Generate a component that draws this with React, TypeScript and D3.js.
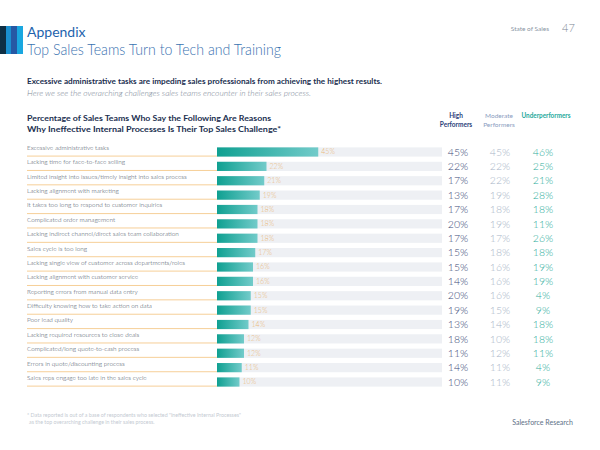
import React from "react";
import * as d3 from "d3";

const categories = [
  "Excessive administrative tasks",
  "Lacking time for face-to-face selling",
  "Limited insight into issues/timely insight into sales process",
  "Lacking alignment with marketing",
  "It takes too long to respond to customer inquiries",
  "Complicated order management",
  "Lacking indirect channel/direct sales team collaboration",
  "Sales cycle is too long",
  "Lacking single view of customer across departments/roles",
  "Lacking alignment with customer service",
  "Reporting errors from manual data entry",
  "Difficulty knowing how to take action on data",
  "Poor lead quality",
  "Lacking required resources to close deals",
  "Complicated/long quote-to-cash process",
  "Errors in quote/discounting process",
  "Sales reps engage too late in the sales cycle",
];
const overall = [45, 22, 21, 19, 18, 18, 18, 17, 16, 16, 15, 15, 14, 12, 12, 11, 10];
const highPerformers = [45, 22, 17, 13, 17, 20, 17, 15, 15, 14, 20, 19, 13, 18, 11, 14, 10];
const moderatePerformers = [45, 22, 22, 19, 18, 19, 17, 18, 16, 16, 16, 15, 14, 10, 12, 11, 11];
const underperformers = [46, 25, 21, 28, 18, 11, 26, 18, 19, 19, 4, 9, 18, 18, 11, 4, 9];

const FONT = "Lato, 'Open Sans', sans-serif";

export default function App() {
  const W = 600;
  const H = 450;
  const x = d3.scaleLinear().domain([0, 100]).range([217, 442]);
  const y = d3
    .scaleBand<string>()
    .domain(categories)
    .range([144.8, 389.2])
    .paddingInner(0.36)
    .paddingOuter(0.18);
  const bw = y.bandwidth();
  const colX = { high: 458, mod: 500, under: 543 };

  return (
    <svg width={W} height={H} style={{ position: "absolute", left: 0, top: 0, background: "#fff" }}>
      <defs>
        <linearGradient id="barGrad" x1="0" x2="1" y1="0" y2="0">
          <stop offset="0%" stopColor="#0fa091" />
          <stop offset="100%" stopColor="#72cbca" />
        </linearGradient>
      </defs>
      {/* header stripes */}
      <rect x={0} y={26} width={6} height={28} fill="#0e2f45" />
      <rect x={6} y={26} width={5} height={28} fill="#1a8fcf" />
      <rect x={11} y={26} width={6} height={28} fill="#2658a4" />
      <rect x={17} y={26} width={6} height={28} fill="#19a7e0" />
      <text x={27} y={37} fontFamily={FONT} fontSize={14} fill="#1d63ad" fontWeight={400}>Appendix</text>
      <text x={27} y={55} fontFamily={FONT} fontSize={15} fill="#3a72b0" fontWeight={300} textLength={254} lengthAdjust="spacingAndGlyphs">
        Top Sales Teams Turn to Tech and Training
      </text>
      <text x={549} y={31} fontFamily={FONT} fontSize={6.5} fill="#8a96a4" textAnchor="end">State of Sales</text>
      <text x={562} y={32} fontFamily={FONT} fontSize={11} fill="#7b8694" fontWeight={300}>47</text>

      <text x={27} y={84} fontFamily={FONT} fontSize={8} fontWeight={700} fill="#1b2f50" textLength={355} lengthAdjust="spacingAndGlyphs">
        Excessive administrative tasks are impeding sales professionals from achieving the highest results.
      </text>
      <text x={27} y={96} fontFamily={FONT} fontSize={7.5} fontStyle="italic" fill="#7c8896" fontWeight={300} textLength={284} lengthAdjust="spacingAndGlyphs">
        Here we see the overarching challenges sales teams encounter in their sales process.
      </text>
      <text x={27} y={121} fontFamily={FONT} fontSize={8} fontWeight={700} fill="#1b2f50" textLength={244} lengthAdjust="spacingAndGlyphs">
        Percentage of Sales Teams Who Say the Following Are Reasons
      </text>
      <text x={27} y={132} fontFamily={FONT} fontSize={8} fontWeight={700} fill="#1b2f50" textLength={254} lengthAdjust="spacingAndGlyphs">
        Why Ineffective Internal Processes Is Their Top Sales Challenge*
      </text>

      {/* column headers */}
      <text x={456} y={118} fontFamily={FONT} fontSize={6.5} fontWeight={700} fill="#2b3f7a" textAnchor="middle">High</text>
      <text x={456} y={127} fontFamily={FONT} fontSize={6.5} fontWeight={700} fill="#2b3f7a" textAnchor="middle">Performers</text>
      <text x={499} y={118} fontFamily={FONT} fontSize={6.5} fill="#8a9cc0" textAnchor="middle">Moderate</text>
      <text x={499} y={127} fontFamily={FONT} fontSize={6.5} fill="#8a9cc0" textAnchor="middle">Performers</text>
      <text x={546} y={118} fontFamily={FONT} fontSize={6.5} fontWeight={700} fill="#25a99c" textAnchor="middle" textLength={49} lengthAdjust="spacingAndGlyphs">Underperformers</text>

      {categories.map((c, i) => {
        const yy = y(c) as number;
        const cy = yy + bw / 2;
        return (
          <g key={c}>
            <text x={27} y={yy + 2.5} fontFamily={FONT} fontSize={6.4} fill="#3e4a5a" fontWeight={300}>{c}</text>
            <line x1={27} x2={x(0)} y1={yy + bw - 0.5} y2={yy + bw - 0.5} stroke="#f6cf98" strokeWidth={1} />
            <rect x={x(0)} y={yy} width={x(100) - x(0)} height={bw} fill="#eef0f4" />
            <rect x={x(0)} y={yy} width={x(overall[i]) - x(0)} height={bw} fill="url(#barGrad)" />
            <text x={x(overall[i]) + 3} y={cy} dy="0.35em" fontFamily={FONT} fontSize={7} fontWeight={300} fill="#eab97a">{overall[i]}%</text>
            <text x={colX.high} y={cy} dy="0.35em" fontFamily={FONT} fontSize={10.5} fontWeight={300} fill="#3c4a78" textAnchor="middle">{highPerformers[i]}%</text>
            <text x={colX.mod} y={cy} dy="0.35em" fontFamily={FONT} fontSize={10.5} fontWeight={300} fill="#a9b6c8" textAnchor="middle">{moderatePerformers[i]}%</text>
            <text x={colX.under} y={cy} dy="0.35em" fontFamily={FONT} fontSize={10.5} fontWeight={300} fill="#2fae9c" textAnchor="middle">{underperformers[i]}%</text>
          </g>
        );
      })}

      <text x={27} y={417} fontFamily={FONT} fontSize={5.3} fill="#c4cad2">
        * Data reported is out of a base of respondents who selected "Ineffective Internal Processes"
      </text>
      <text x={29} y={424} fontFamily={FONT} fontSize={5.3} fill="#c4cad2">
        as the top overarching challenge in their sales process.
      </text>
      <text x={573} y={425} fontFamily={FONT} fontSize={7} fill="#5d6f86" textAnchor="end">Salesforce Research</text>
    </svg>
  );
}
